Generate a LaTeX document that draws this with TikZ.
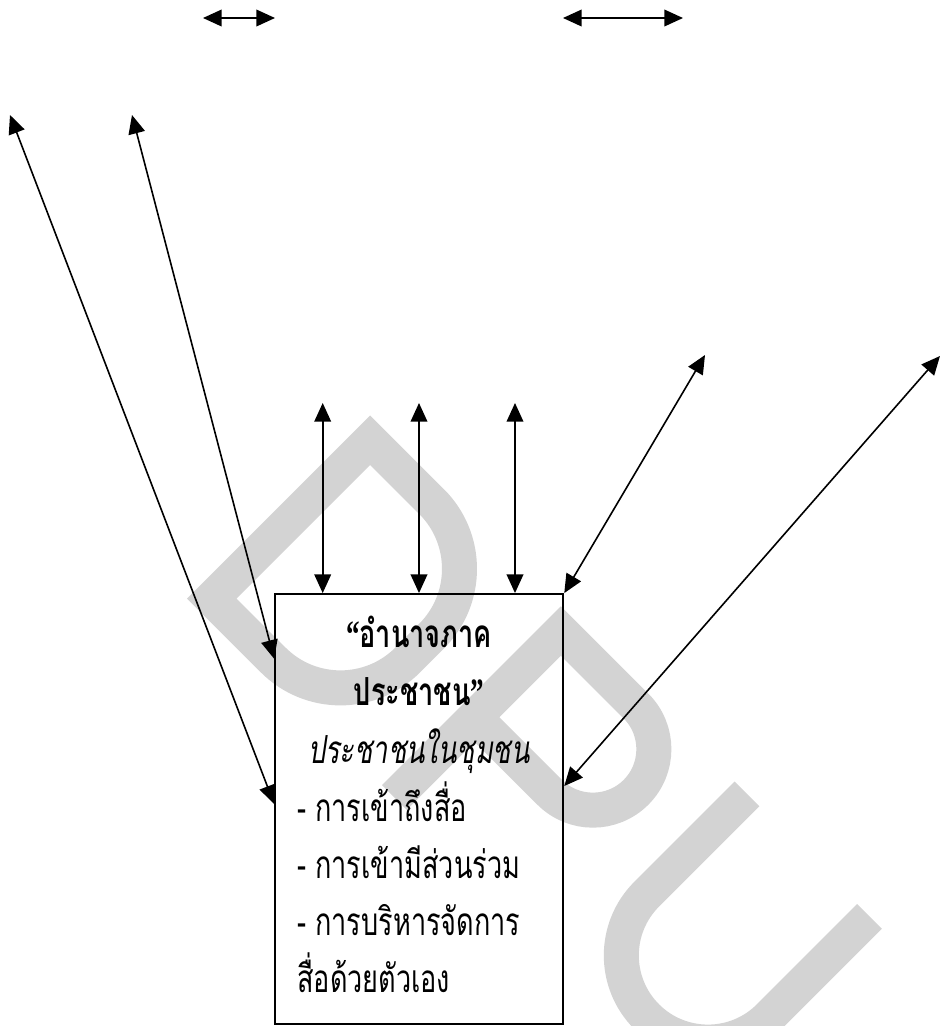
\documentclass[tikz,border=0pt]{standalone}
\usepackage{fontspec}
\usepackage{xcolor}
\usepackage{graphicx}
\usepackage{tikz}
\usetikzlibrary{arrows.meta,positioning}

\newfontfamily\thaifont[Script=Thai]{Loma}
\newfontfamily\quotefont{Liberation Serif}
\definecolor{wmgray}{RGB}{211,211,211}
\newcommand{\slim}[1]{\scalebox{0.7}[1]{#1}}

\begin{document}
\begin{tikzpicture}[
    x=0.75pt, y=-0.75pt,
    frame/.style={draw, line width=1.4pt, minimum width=216.2pt, minimum height=322.5pt, inner sep=0pt},
    headline/.style={font=\thaifont\bfseries\fontsize{29}{34}\selectfont, anchor=base, inner sep=0pt},
    subline/.style={font=\thaifont\itshape\fontsize{29}{34}\selectfont, anchor=base, inner sep=0pt},
    item/.style={font=\thaifont\fontsize{29}{34}\selectfont, anchor=base west, inner sep=0pt},
    twoway/.style={arrows={Triangle[length=14pt,width=12.5pt]-Triangle[length=14pt,width=12.5pt]}, line width=1.2pt},
    watermark/.style={draw=wmgray, line width=26.25pt}
]
\useasboundingbox (0,0) rectangle (941,1026);

% watermark
\begin{scope}[x={(0.5303pt,-0.5303pt)}, y={(0.5303pt,0.5303pt)}, watermark]
  \draw (573,-273.5) -- (573,-49.5) -- (660,-49.5) arc[start angle=90, end angle=0, radius=95]
    -- (755,-178.5) arc[start angle=0, end angle=-90, radius=95] -- cycle;
  \draw (842.9,-285) -- (842.9,-49.5) -- (949,-49.5) arc[start angle=90, end angle=-90, radius=61] -- (842.9,-171.5);
  \draw (1089.6,-33.2) -- (1089.6,-175) arc[start angle=180, end angle=360, radius=86.65] -- (1262.9,-33.2);
\end{scope}

\node[frame] (power) at (419.2,809) {};

\node[headline] (head1) at (419,647) {\slim{{\quotefont “}อำนาจภาค}};
\node[headline] (head2) at (419,705) {\slim{ประชาชน{\quotefont ”}}};
\node[subline] (people) at (419,763) {\slim{ประชาชนในชุมชน}};
\node[item] (access) at (297,821) {\slim{- การเข้าถึงสื่อ}};
\node[item] (share) at (297,878) {\slim{- การเข้ามีส่วนร่วม}};
\node[item] (manage) at (297,935) {\slim{- การบริหารจัดการ}};
\node[item] (self) at (297,992) {\slim{สื่อด้วยตัวเอง}};

% free ends
\coordinate (top1a) at (203,18);
\coordinate (top1b) at (275,18);
\coordinate (top2a) at (563,18);
\coordinate (top2b) at (683,18);
\coordinate (far1) at (10,115);
\coordinate (far2) at (132,115);
\coordinate (up1) at (322.7,403);
\coordinate (up2) at (419,403);
\coordinate (up3) at (515,403);
\coordinate (ne1) at (705,355);
\coordinate (ne2) at (940,356);

\draw[twoway] (top1a) -- (top1b);
\draw[twoway] (top2a) -- (top2b);
\draw[twoway] (far1) -- (power.178);
\draw[twoway] (far2) -- (power.134);
\draw[twoway] (up1) -- (up1 |- power.north);
\draw[twoway] (up2) -- (up2 |- power.north);
\draw[twoway] (up3) -- (up3 |- power.north);
\draw[twoway] (ne1) -- (power.north east);
\draw[twoway] (ne2) -- (power.9);

\end{tikzpicture}
\end{document}
